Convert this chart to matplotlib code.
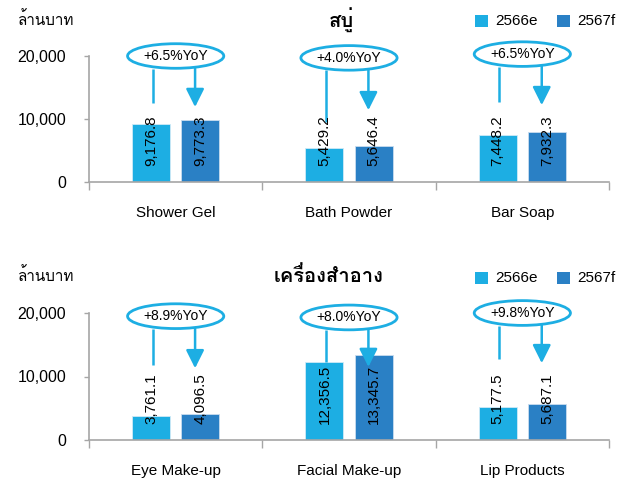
import matplotlib
matplotlib.use("Agg")
import matplotlib.pyplot as plt
from matplotlib import font_manager
from matplotlib.ft2font import FT2Font
from matplotlib.patches import Ellipse, Rectangle

# ---- data -------------------------------------------------------------
soap_categories = ["Shower Gel", "Bath Powder", "Bar Soap"]
soap_2566e = [9176.8, 5429.2, 7448.2]
soap_2567f = [9773.3, 5646.4, 7932.3]
soap_yoy = ["+6.5%YoY", "+4.0%YoY", "+6.5%YoY"]

cosm_categories = ["Eye Make-up", "Facial Make-up", "Lip Products"]
cosm_2566e = [3761.1, 12356.5, 5177.5]
cosm_2567f = [4096.5, 13345.7, 5687.1]
cosm_yoy = ["+8.9%YoY", "+8.0%YoY", "+9.8%YoY"]

series_names = ["2566e", "2567f"]
unit_label = "ล้านบาท"
soap_title = "สบู่"
cosm_title = "เครื่องสำอาง"
y_ticks = [0, 10000, 20000]

# callout geometry (ellipse centre, line / arrow end levels)
soap_callout_y = [20000, 19700, 20300]
soap_line_end = [12500, 9500, 12700]
soap_arrow_end = [11900, 11400, 12200]
cosm_callout_y = [19500, 19300, 20000]
cosm_line_end = [11800, 12356.5, 12700]
cosm_arrow_end = [11300, 11500, 12100]

LIGHT = "#1DAEE3"
DARK = "#2A80C5"
AXIS = "#A6A6A6"


def find_thai_font():
    for fe in font_manager.fontManager.ttflist:
        try:
            cmap = FT2Font(fe.fname).get_charmap()
        except Exception:
            continue
        if 0x0E01 in cmap and 0x0E2A in cmap:
            return fe.name
    return None


thai = find_thai_font()
latin = "Liberation Sans"
thai_family = [thai, latin] if thai else [latin, "DejaVu Sans"]
plt.rcParams["font.family"] = [latin, "DejaVu Sans"]

fig = plt.figure(figsize=(6.32, 4.82), dpi=100)
W, H = 632, 482


def axes_px(left, right, top, bottom):
    return fig.add_axes([left / W, 1 - bottom / H, (right - left) / W, (bottom - top) / H])


def panel(ax, cats, v1, v2, yoy, cy, lend, aend, title, title_x, title_y, legend_y):
    x = list(range(len(cats)))
    off, bw = 0.142, 0.22
    ax.bar([i - off for i in x], v1, width=bw, color=LIGHT, edgecolor="#CFEAF7", linewidth=0.6, zorder=2)
    ax.bar([i + off for i in x], v2, width=bw, color=DARK, edgecolor="#C9DCEF", linewidth=0.6, zorder=2)
    for i in x:
        for xv, v in ((i - off, v1[i]), (i + off, v2[i])):
            ax.text(xv, 2500, f"{v:,.1f}", rotation=90, ha="center", va="bottom",
                    fontsize=11, color="black", zorder=4)
        # YoY callout
        ell = Ellipse((i, cy[i]), 0.555, 3900, fill=False, edgecolor=LIGHT, linewidth=2.0,
                      clip_on=False, zorder=5)
        ax.add_patch(ell)
        ax.text(i, cy[i], yoy[i], ha="center", va="center", fontsize=10, clip_on=False, zorder=6)
        ax.plot([i - off + 0.01, i - off + 0.01], [cy[i] - 2000, lend[i]], color=LIGHT, lw=1.8,
                clip_on=False, zorder=3, solid_capstyle="butt")
        ax.annotate("", xy=(i + off - 0.03, aend[i]), xytext=(i + off - 0.03, cy[i] - 1950),
                    arrowprops=dict(arrowstyle="-|>,head_length=1.1,head_width=0.55",
                                    color=LIGHT, lw=1.8, shrinkA=0, shrinkB=0),
                    annotation_clip=False, zorder=3)
    ax.set_xlim(-0.5, len(cats) - 0.5)
    ax.set_ylim(0, 20000)
    ax.set_yticks(y_ticks)
    ax.set_yticklabels([f"{t:,}" for t in y_ticks], fontsize=11.5)
    ax.tick_params(axis="y", length=3.5, width=1, color=AXIS, pad=13)
    ax.set_xticks([i - 0.5 for i in range(len(cats) + 1)])
    ax.set_xticklabels([])
    ax.set_xticks(x, minor=True)
    ax.set_xticklabels(cats, minor=True, fontsize=11)
    ax.tick_params(axis="x", which="major", length=5.5, width=1, color=AXIS, direction="out")
    ax.tick_params(axis="x", which="minor", length=0, pad=17)
    for s in ("top", "right"):
        ax.spines[s].set_visible(False)
    for s in ("left", "bottom"):
        ax.spines[s].set_color(AXIS)
        ax.spines[s].set_linewidth(1.2)
    ax.set_facecolor("none")

    # headings
    fig.text(18 / W, 1 - title_y / H, unit_label, family=thai_family, fontsize=11,
             ha="left", va="center")
    fig.text(title_x / W, 1 - title_y / H, title, family=thai_family, fontsize=14.5,
             fontweight="bold", ha="center", va="center")
    # legend
    for sx, tx, col, name in ((475, 495, LIGHT, series_names[0]), (557, 577, DARK, series_names[1])):
        fig.patches.append(Rectangle((sx / W, 1 - (legend_y + 6) / H), 13 / W, 12 / H,
                                     transform=fig.transFigure, facecolor=col, edgecolor="none"))
        fig.text(tx / W, 1 - legend_y / H, name, fontsize=11, ha="left", va="center")


ax1 = axes_px(89, 609, 56, 182)
panel(ax1, soap_categories, soap_2566e, soap_2567f, soap_yoy,
      soap_callout_y, soap_line_end, soap_arrow_end, soap_title, 341, 20, 21)

ax2 = axes_px(89, 609, 313, 440)
panel(ax2, cosm_categories, cosm_2566e, cosm_2567f, cosm_yoy,
      cosm_callout_y, cosm_line_end, cosm_arrow_end, cosm_title, 329, 276, 278)

fig.savefig("out.png", dpi=100, facecolor="white")
